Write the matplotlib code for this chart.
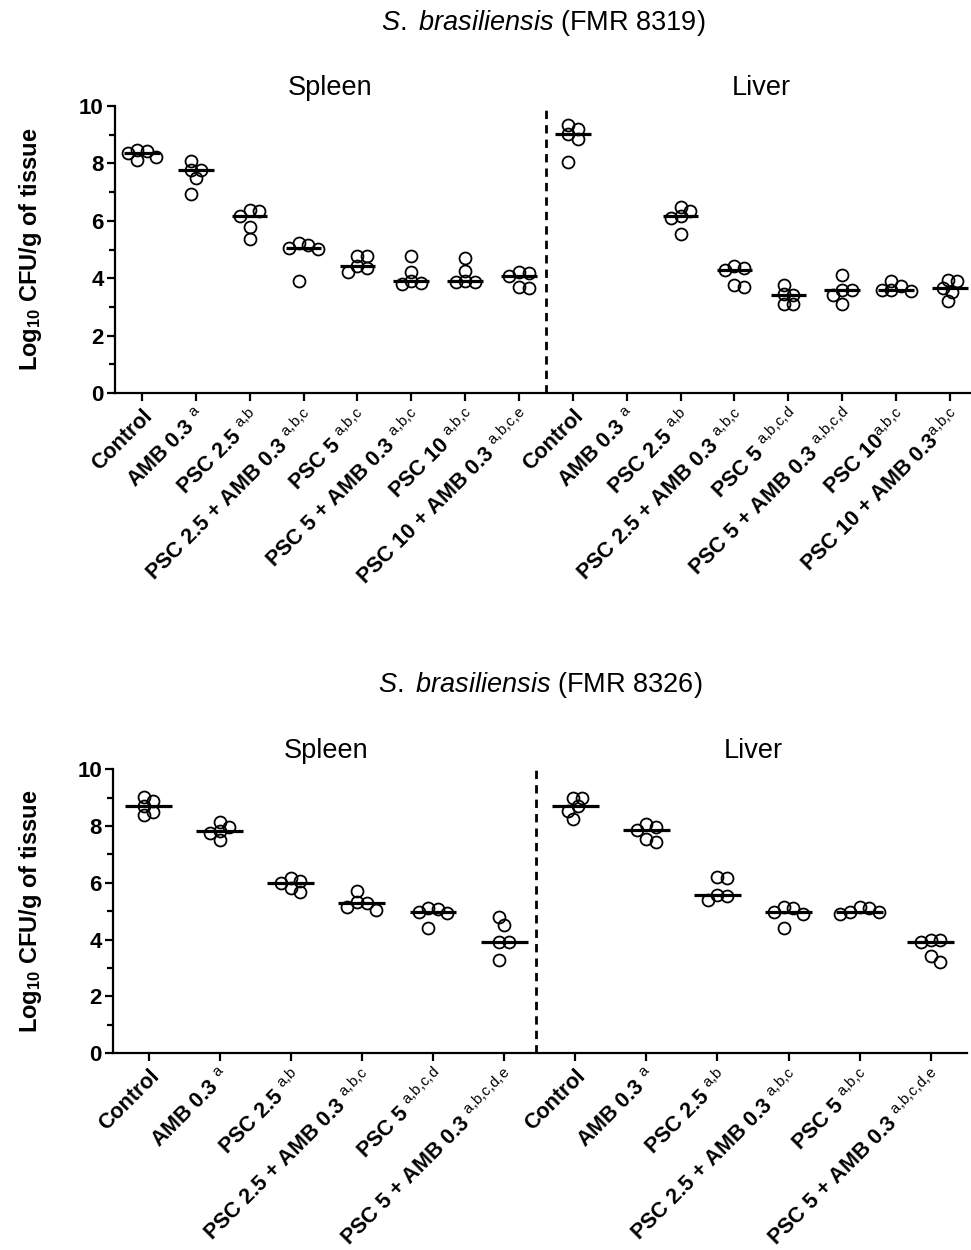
import numpy as np
import matplotlib
matplotlib.use("Agg")
import matplotlib.pyplot as plt

plt.rcParams['font.family'] = ['Liberation Sans', 'DejaVu Sans']
plt.rcParams['mathtext.fontset'] = 'custom'
plt.rcParams['mathtext.rm'] = 'Liberation Sans'
plt.rcParams['mathtext.it'] = 'Liberation Sans:italic'
plt.rcParams['mathtext.bf'] = 'Liberation Sans:bold'

# ---- data: S. brasiliensis FMR 8319 ----
top_title = r"$\mathit{S.\ brasiliensis}$ (FMR 8319)"
top_names = ["Control", "AMB 0.3 ", "PSC 2.5 ", "PSC 2.5 + AMB 0.3 ", "PSC 5 ",
             "PSC 5 + AMB 0.3 ", "PSC 10 ", "PSC 10 + AMB 0.3 ",
             "Control", "AMB 0.3 ", "PSC 2.5 ", "PSC 2.5 + AMB 0.3 ", "PSC 5 ",
             "PSC 5 + AMB 0.3 ", "PSC 10", "PSC 10 + AMB 0.3"]
top_sups = ["", "a", "a,b", "a,b,c", "a,b,c", "a,b,c", "a,b,c", "a,b,c,e",
            "", "a", "a,b", "a,b,c", "a,b,c,d", "a,b,c,d", "a,b,c", "a,b,c"]
top_spleen = [
    [8.48, 8.36, 8.11, 8.22, 8.42],
    [7.78, 7.76, 8.10, 7.49, 6.95],
    [6.33, 6.18, 6.36, 5.77, 5.37],
    [5.23, 5.05, 5.03, 5.15, 3.89],
    [4.79, 4.76, 4.41, 4.20, 4.36],
    [4.79, 4.20, 3.89, 3.80, 3.83],
    [4.70, 4.24, 3.86, 3.86, 3.89],
    [4.20, 4.18, 4.07, 3.66, 3.69],
]
top_liver = [
    [9.33, 9.20, 9.02, 8.85, 8.05],
    [],
    [6.35, 6.47, 6.16, 6.10, 5.54],
    [4.44, 4.36, 4.27, 3.68, 3.75],
    [3.75, 3.45, 3.43, 3.11, 3.11],
    [4.10, 3.58, 3.60, 3.40, 3.11],
    [3.91, 3.72, 3.60, 3.54, 3.58],
    [3.95, 3.89, 3.66, 3.51, 3.19],
]

# ---- data: S. brasiliensis FMR 8326 ----
bot_title = r"$\mathit{S.\ brasiliensis}$ (FMR 8326)"
bot_names = ["Control", "AMB 0.3 ", "PSC 2.5 ", "PSC 2.5 + AMB 0.3 ", "PSC 5 ",
             "PSC 5 + AMB 0.3 ",
             "Control", "AMB 0.3 ", "PSC 2.5 ", "PSC 2.5 + AMB 0.3 ", "PSC 5 ",
             "PSC 5 + AMB 0.3 "]
bot_sups = ["", "a", "a,b", "a,b,c", "a,b,c,d", "a,b,c,d,e",
            "", "a", "a,b", "a,b,c", "a,b,c", "a,b,c,d,e"]
bot_spleen = [
    [9.04, 8.89, 8.72, 8.51, 8.39],
    [8.13, 7.98, 7.83, 7.77, 7.51],
    [6.16, 6.08, 5.99, 5.83, 5.67],
    [5.72, 5.28, 5.31, 5.16, 5.05],
    [5.13, 5.08, 4.99, 4.93, 4.40],
    [4.78, 4.52, 3.90, 3.90, 3.29],
]
bot_liver = [
    [9.00, 8.98, 8.72, 8.53, 8.24],
    [8.06, 7.95, 7.86, 7.55, 7.45],
    [6.20, 6.16, 5.58, 5.52, 5.40],
    [5.14, 5.11, 4.99, 4.91, 4.40],
    [5.14, 5.11, 4.99, 4.96, 4.91],
    [3.99, 3.90, 3.99, 3.43, 3.23],
]

ylabel = r"Log$_{\mathbf{10}}$ CFU/g of tissue"


def make_labels(names, sups):
    out = []
    for n, s in zip(names, sups):
        if s:
            out.append(n + r"$^{\mathrm{" + s.replace(",", "{,}") + "}}$")
        else:
            out.append(n)
    return out


def swarm_offsets(vals, ax, min_dist=8.5, step=4.8):
    # simple beeswarm: shift points sideways (in pixels) so circles do not pile up
    bbox = ax.get_window_extent()
    x0, x1 = ax.get_xlim()
    y0, y1 = ax.get_ylim()
    px_x = bbox.width / (x1 - x0)
    px_y = bbox.height / (y1 - y0)
    placed = []
    offs = np.zeros(len(vals))
    order = np.argsort(-np.asarray(vals))
    for i in order:
        y = vals[i] * px_y
        for k in range(0, 30):
            cand = [0.0] if k == 0 else [k * step, -k * step]
            ok = None
            for c in cand:
                if all((c - px) ** 2 + (y - py) ** 2 >= min_dist ** 2 for px, py in placed):
                    ok = c
                    break
            if ok is not None:
                placed.append((ok, y))
                offs[i] = ok / px_x
                break
    # center the cloud on the tick
    offs -= (offs.max() + offs.min()) / 2
    return offs


def draw_panel(ax, groups, labels, xlim, sep, organ_names, organ_x, title, title_off, ylab_x):
    ax.set_xlim(*xlim)
    ax.set_ylim(0, 10)
    for i, vals in enumerate(groups):
        if len(vals) == 0:
            continue
        offs = swarm_offsets(vals, ax)
        ax.plot(i + offs, vals, 'o', ms=8.6, mfc='none', mec='black', mew=1.3, zorder=3)
        med = np.median(vals)
        ax.plot([i - 0.33, i + 0.33], [med, med], color='black', lw=2.3, zorder=4,
                solid_capstyle='butt')
    ax.axvline(sep, ymin=0, ymax=1, color='black', lw=2, ls=(0, (3, 2.2)))
    for name, xo in zip(organ_names, organ_x):
        ax.text(xo, 10.4, name, ha='center', va='baseline', fontsize=19.5)
    ax.text(0.5, 1.0 + title_off, title, transform=ax.transAxes, ha='center',
            va='baseline', fontsize=19.5)
    ax.set_xticks(np.arange(len(groups)))
    ax.set_xticklabels(labels, rotation=45, ha='right', rotation_mode='anchor',
                       fontsize=15.5, fontweight='bold')
    ax.set_yticks(np.arange(0, 11, 2))
    ax.set_yticks(np.arange(1, 10, 2), minor=True)
    ax.set_yticklabels([str(v) for v in range(0, 11, 2)], fontsize=16, fontweight='bold')
    ax.set_ylabel(ylabel, fontsize=17, fontweight='bold', va='center')
    ax.yaxis.set_label_coords(ylab_x, 0.5)
    for s in ['top', 'right']:
        ax.spines[s].set_visible(False)
    for s in ['left', 'bottom']:
        ax.spines[s].set_linewidth(1.6)
    ax.tick_params(axis='x', length=6, width=1.6, pad=3)
    ax.tick_params(axis='y', which='major', length=6, width=1.6, pad=2)
    ax.tick_params(axis='y', which='minor', length=4, width=1.6)


fig = plt.figure(figsize=(9.71, 12.5), dpi=100)

ax1 = fig.add_axes([0.1184, 0.6856, 0.8816, 0.2296])
draw_panel(ax1, top_spleen + top_liver, make_labels(top_names, top_sups),
           (-0.5, 15.39), 7.5, ["Spleen", "Liver"], [3.5, 11.5], top_title, 0.265, -0.099)

ax2 = fig.add_axes([0.1164, 0.1574, 0.8795, 0.2272])
draw_panel(ax2, bot_spleen + bot_liver, make_labels(bot_names, bot_sups),
           (-0.5, 11.51), 5.45, ["Spleen", "Liver"], [2.5, 8.5], bot_title, 0.271, -0.097)

fig.savefig("out.png", dpi=100)
